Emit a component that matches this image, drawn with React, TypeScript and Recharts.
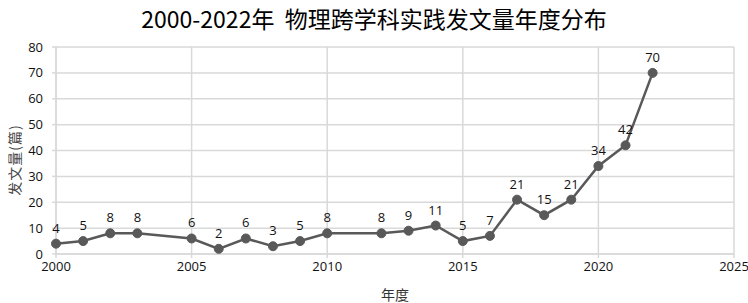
import { CartesianGrid, Label, LabelList, Line, LineChart, XAxis, YAxis } from "recharts";

const years = [2000, 2001, 2002, 2003, 2005, 2006, 2007, 2008, 2009, 2010, 2012, 2013, 2014, 2015, 2016, 2017, 2018, 2019, 2020, 2021, 2022];
const counts = [4, 5, 8, 8, 6, 2, 6, 3, 5, 8, 8, 9, 11, 5, 7, 21, 15, 21, 34, 42, 70];
const xTicks = [2000, 2005, 2010, 2015, 2020, 2025];
const yTicks = [0, 10, 20, 30, 40, 50, 60, 70, 80];

const data = years.map((year, i) => ({ year, count: counts[i] }));

const sans = "'Open Sans', 'Noto Sans CJK SC', sans-serif";
const cjk = "'Noto Sans CJK SC', sans-serif";
const grid = "#d9d9d9";

export default function App() {
  return (
    <div style={{ position: "absolute", left: 0, top: 0, width: 748, height: 303, background: "#fff" }}>
      <div
        style={{
          position: "absolute",
          left: 0,
          top: 3,
          width: 748,
          textAlign: "center",
          fontFamily: cjk,
          fontSize: 23,
          color: "#000",
          whiteSpace: "pre",
          lineHeight: "30px",
        }}
      >
        {"2000-2022年  物理跨学科实践发文量年度分布"}
      </div>
      <LineChart width={748} height={303} data={data} margin={{ top: 47, right: 14, bottom: 0, left: 0 }}>
        <CartesianGrid stroke={grid} strokeWidth={1.5} />
        <XAxis
          dataKey="year"
          type="number"
          domain={[2000, 2025]}
          ticks={xTicks}
          height={49}
          stroke={grid}
          strokeWidth={1.5}
          tickSize={4}
          tickMargin={4}
          tick={{ fontSize: 13, fill: "#111", fontFamily: sans }}
        >
          <Label value="年度" position="insideBottom" offset={3} style={{ fontSize: 14, fill: "#333", fontFamily: cjk }} />
        </XAxis>
        <YAxis
          type="number"
          domain={[0, 80]}
          ticks={yTicks}
          width={56}
          stroke={grid}
          strokeWidth={1.5}
          tickSize={4}
          tickMargin={9}
          tick={{ fontSize: 13, fill: "#111", fontFamily: sans }}
        >
          <Label
            content={() => (
              <text
                x={14}
                y={160}
                transform="rotate(-90 14 160)"
                textAnchor="middle"
                dominantBaseline="central"
                style={{ fontSize: 14, fill: "#444", fontFamily: cjk, letterSpacing: 1 }}
              >
                发文量(篇)
              </text>
            )}
          />
        </YAxis>
        <Line
          dataKey="count"
          stroke="#595959"
          strokeWidth={2.5}
          dot={{ r: 4.5, fill: "#595959", stroke: "#595959", strokeWidth: 1 }}
          isAnimationActive={false}
        >
          <LabelList dataKey="count" position="top" offset={11} style={{ fontSize: 13, fill: "#111", fontFamily: sans }} />
        </Line>
      </LineChart>
    </div>
  );
}
